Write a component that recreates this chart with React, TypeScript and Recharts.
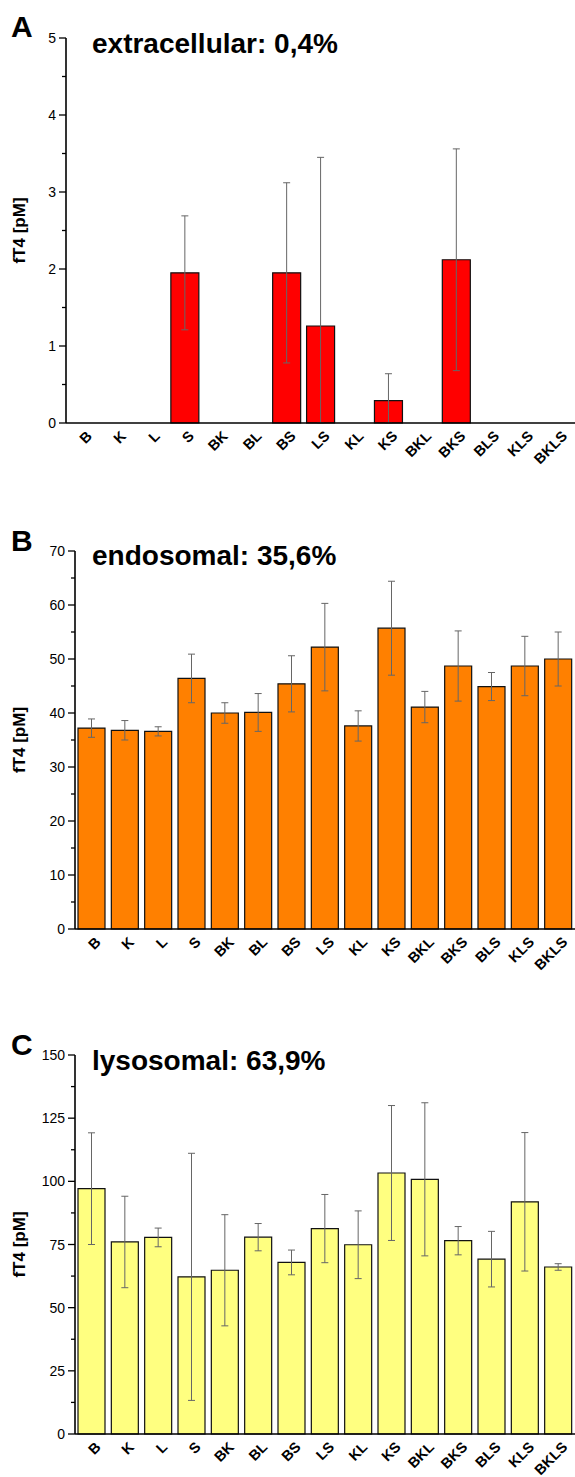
import React from 'react';
import { BarChart, Bar, XAxis, YAxis, ErrorBar } from 'recharts';

const FONT = '"Liberation Sans", Arial, sans-serif';

const groups = ['B', 'K', 'L', 'S', 'BK', 'BL', 'BS', 'LS', 'KL', 'KS', 'BKL', 'BKS', 'BLS', 'KLS', 'BKLS'];

const extraMean = [0, 0, 0, 1.95, 0, 0, 1.95, 1.26, 0, 0.29, 0, 2.12, 0, 0, 0];
const extraSd = [0, 0, 0, 0.74, 0, 0, 1.17, 2.19, 0, 0.35, 0, 1.44, 0, 0, 0];

const endoMean = [37.2, 36.8, 36.6, 46.4, 40.0, 40.1, 45.4, 52.2, 37.6, 55.7, 41.1, 48.7, 44.9, 48.7, 50.0];
const endoSd = [1.7, 1.8, 0.85, 4.5, 1.9, 3.5, 5.2, 8.1, 2.8, 8.7, 2.9, 6.5, 2.6, 5.5, 5.0];

const lysoMean = [97.1, 76.0, 77.8, 62.2, 64.8, 77.9, 67.9, 81.3, 74.9, 103.3, 100.8, 76.5, 69.2, 91.9, 66.1];
const lysoSd = [22.1, 18.1, 3.7, 48.9, 22.0, 5.4, 4.9, 13.5, 13.4, 26.7, 30.3, 5.6, 11.0, 27.4, 1.3];

const ticksA = [0, 0.5, 1, 1.5, 2, 2.5, 3, 3.5, 4, 4.5, 5];
const majorsA = [0, 1, 2, 3, 4, 5];
const ticksB = [0, 5, 10, 15, 20, 25, 30, 35, 40, 45, 50, 55, 60, 65, 70];
const majorsB = [0, 10, 20, 30, 40, 50, 60, 70];
const ticksC = [0, 12.5, 25, 37.5, 50, 62.5, 75, 87.5, 100, 112.5, 125, 137.5, 150];
const majorsC = [0, 25, 50, 75, 100, 125, 150];

const edgeTicks = [0, 1, 2, 3, 4, 5, 6, 7, 8, 9, 10, 11, 12, 13, 14, 15];

// lower whisker is cut at the axis (value can't go below 0)
const rows = (means: number[], sds: number[]) =>
  groups.map((name, i) => ({ name, value: means[i], err: [Math.min(sds[i], means[i]), sds[i]] }));

const YTick = ({ x, y, payload, majors }: any) => {
  const major = majors.includes(payload.value);
  return (
    <g>
      <line x1={x} x2={x - (major ? 7 : 4)} y1={y} y2={y} stroke="#000" strokeWidth={1.3} />
      {major && (
        <text x={x - 10} y={y} dy={5} textAnchor="end" fontSize={14} fontFamily={FONT} fill="#000">
          {payload.value}
        </text>
      )}
    </g>
  );
};

const XTick = ({ x, y, payload }: any) => {
  const ax = Number(x) + 10;
  const ay = Number(y) + 14;
  return (
    <g transform={`translate(${ax},${ay}) rotate(-45)`}>
      <text x={0} y={0} textAnchor="end" fontSize={14.5} fontWeight="bold" fontFamily={FONT} fill="#000">
        {payload.value}
      </text>
    </g>
  );
};

const YLabel = ({ viewBox }: any) => {
  const cy = viewBox.y + viewBox.height / 2;
  return (
    <text x={19} y={cy} transform={`rotate(-90 19 ${cy})`} textAnchor="middle" dy={6}
      fontSize={17} fontWeight="bold" fontFamily={FONT} fill="#000">
      fT4 [pM]
    </text>
  );
};

interface PanelProps {
  means: number[];
  sds: number[];
  color: string;
  ticks: number[];
  majors: number[];
  top: number;
  height: number;
  marginTop: number;
  axisWidth: number;
  xAxisHeight: number;
}

function Panel({ means, sds, color, ticks, majors, top, height, marginTop, axisWidth, xAxisHeight }: PanelProps) {
  const data = rows(means, sds);
  return (
    <div style={{ position: 'absolute', left: 0, top }}>
      <BarChart width={575} height={height} data={data} barCategoryGap="9%"
        margin={{ top: marginTop, right: 0, bottom: 0, left: 0 }}>
        <XAxis xAxisId="edges" type="number" domain={[0, 15]} ticks={edgeTicks} height={0}
          tick={() => null} axisLine={false} tickSize={5} tickLine={{ stroke: '#000', strokeWidth: 1.3 }} />
        <XAxis dataKey="name" interval={0} height={xAxisHeight} tickSize={0} tickMargin={0}
          tickLine={false} axisLine={{ stroke: '#000', strokeWidth: 1.6 }} tick={XTick} />
        <YAxis width={axisWidth} domain={[0, ticks[ticks.length - 1]]} ticks={ticks} interval={0}
          tickSize={0} tickMargin={0} tickLine={false} axisLine={{ stroke: '#000', strokeWidth: 1.6 }}
          tick={<YTick majors={majors} />} label={{ value: 'fT4 [pM]', content: <YLabel /> }} />
        <Bar dataKey="value" fill={color} stroke="#111" strokeWidth={1.2} isAnimationActive={false}>
          <ErrorBar dataKey="err" width={3.5} stroke="#666" strokeWidth={1} isAnimationActive={false} />
        </Bar>
      </BarChart>
    </div>
  );
}

export default function App() {
  return (
    <div style={{ position: 'absolute', left: 0, top: 0, width: 575, height: 1477, background: '#fff' }}>
      <Panel means={extraMean} sds={extraSd} color="#FF0000" ticks={ticksA} majors={majorsA}
        top={0} height={490} marginTop={38} axisWidth={66} xAxisHeight={67} />
      <Panel means={endoMean} sds={endoSd} color="#FF8000" ticks={ticksB} majors={majorsB}
        top={490} height={509} marginTop={61} axisWidth={75} xAxisHeight={70} />
      <Panel means={lysoMean} sds={lysoSd} color="#FFFF80" ticks={ticksC} majors={majorsC}
        top={999} height={478} marginTop={56} axisWidth={75} xAxisHeight={43} />
      <svg width={575} height={1477} style={{ position: 'absolute', left: 0, top: 0, pointerEvents: 'none' }}
        fontFamily={FONT} fontWeight="bold" fill="#000">
        <text x={11} y={37} fontSize={30}>A</text>
        <text x={92} y={53} fontSize={28}>extracellular: 0,4%</text>
        <text x={11} y={551} fontSize={30}>B</text>
        <text x={92} y={565} fontSize={28}>endosomal: 35,6%</text>
        <text x={11} y={1055} fontSize={30}>C</text>
        <text x={92} y={1070} fontSize={28}>lysosomal: 63,9%</text>
      </svg>
    </div>
  );
}
